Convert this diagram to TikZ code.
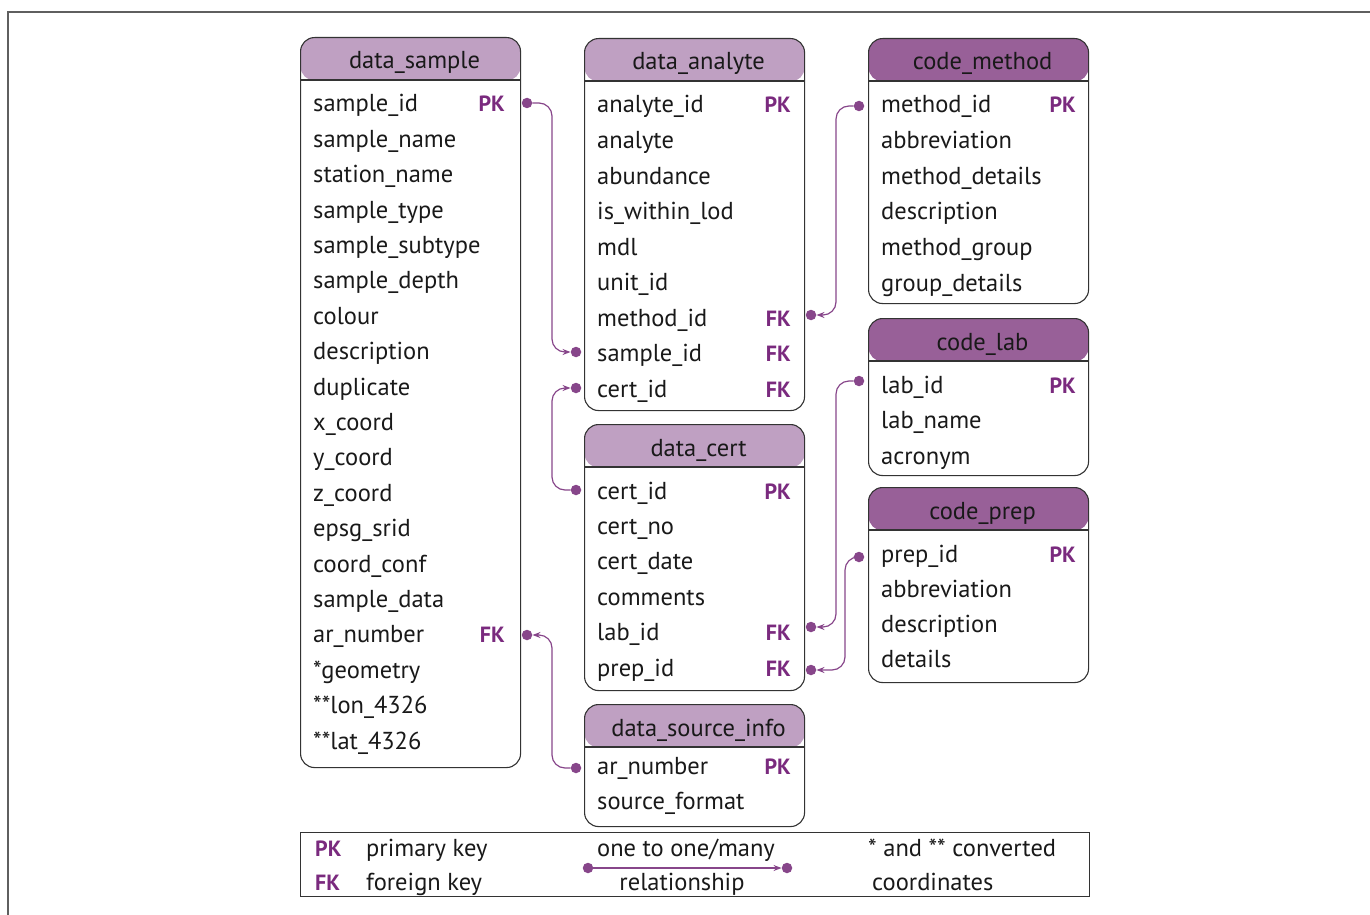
\documentclass[tikz,border=0pt]{standalone}
\usepackage{fontspec}
\setmainfont{PT Sans}
\usetikzlibrary{arrows.meta}
\definecolor{hdrlight}{RGB}{191,160,194}
\definecolor{hdrdark}{RGB}{152,96,152}
\definecolor{keycol}{RGB}{122,42,126}
\definecolor{conncol}{RGB}{135,70,138}
\definecolor{framecol}{RGB}{95,95,95}
\tikzset{
  tbl/.style={draw=black!80, line width=1.1pt, rounded corners=14pt, anchor=north west, inner sep=0pt, minimum width=220pt},
  tblline/.style={draw=black!80, line width=1.1pt},
  hdrtext/.style={font=\fontsize{24.5}{28}\selectfont, text=black!90, inner sep=0pt, anchor=base},
  rowtext/.style={font=\fontsize{24.5}{28}\selectfont, text=black!90, anchor=base west, inner sep=0pt},
  keytext/.style={font=\fontsize{22}{27}\selectfont\bfseries, text=keycol, anchor=base east, inner sep=0pt},
  dot/.style={circle, fill=conncol, inner sep=0pt, minimum size=10.5pt},
  conn/.style={draw=conncol, line width=1.2pt, rounded corners=13pt, -{Stealth[length=8pt,width=6pt]}},
}
\newcommand\ertable[6]{%
  \node[tbl, minimum height=#4pt, path picture={\fill[#5] (path picture bounding box.north west) rectangle ([yshift=-43pt]path picture bounding box.north east);}] (#1) at (#2,#3) {};
  \draw[tblline] ([yshift=-43pt]#1.north west) -- ([yshift=-43pt]#1.north east);
  \node[hdrtext] (#1-title) at ([xshift=4pt,yshift=-32pt]#1.north) {#6};
}
\newcommand\errows[5]{%
  \foreach \t [count=\i] in {#5} \node[rowtext] (#1-r\i) at ({#2},{#3+#4*(\i-1)}) {\t};
}
\begin{document}
\begin{tikzpicture}[x=1pt,y=-1pt]
\useasboundingbox (0,0) rectangle (1370,915);
% frame
\coordinate (fr1) at (8,915);
\coordinate (fr2) at (8,12);
\coordinate (fr3) at (1370,12);
\draw[framecol, line width=1.5pt] (fr1) -- (fr2) -- (fr3);

% tables
\ertable{ds}{300}{37}{730}{hdrlight}{data\_sample}
\errows{ds}{313}{112}{35.39}{sample\_id,sample\_name,station\_name,sample\_type,sample\_subtype,sample\_depth,colour,description,duplicate,x\_coord,y\_coord,z\_coord,epsg\_srid,coord\_conf,sample\_data,ar\_number,*geometry,**lon\_4326,**lat\_4326}
\node[keytext] (ds-k1) at (505,112) {PK};
\node[keytext] (ds-k16) at (505,642.9) {FK};

\ertable{da}{584}{38}{372}{hdrlight}{data\_analyte}
\errows{da}{597}{113}{35.5}{analyte\_id,analyte,abundance,is\_within\_lod,mdl,unit\_id,method\_id,sample\_id,cert\_id}
\node[keytext] (da-k1) at (791,113) {PK};
\node[keytext] (da-k7) at (791,326) {FK};
\node[keytext] (da-k8) at (791,361.5) {FK};
\node[keytext] (da-k9) at (791,397) {FK};

\ertable{cm}{868}{38}{265}{hdrdark}{code\_method}
\errows{cm}{881}{113}{35.6}{method\_id,abbreviation,method\_details,description,method\_group,group\_details}
\node[keytext] (cm-k1) at (1076,113) {PK};

\ertable{cl}{868}{318}{157}{hdrdark}{code\_lab}
\errows{cl}{881}{393}{35.5}{lab\_id,lab\_name,acronym}
\node[keytext] (cl-k1) at (1076,393) {PK};

\ertable{dc}{584}{424}{266}{hdrlight}{data\_cert}
\errows{dc}{597}{499}{35.4}{cert\_id,cert\_no,cert\_date,comments,lab\_id,prep\_id}
\node[keytext] (dc-k1) at (791,499) {PK};
\node[keytext] (dc-k5) at (791,640.6) {FK};
\node[keytext] (dc-k6) at (791,676) {FK};

\ertable{cp}{868}{487}{195}{hdrdark}{code\_prep}
\errows{cp}{881}{562}{35.3}{prep\_id,abbreviation,description,details}
\node[keytext] (cp-k1) at (1076,562) {PK};

\ertable{dsi}{584}{704}{122}{hdrlight}{data\_source\_info}
\errows{dsi}{597}{774}{35}{ar\_number,source\_format}
\node[keytext] (dsi-k1) at (791,774) {PK};

% dots
\node[dot] (d-ds-pk) at (527,103) {};
\node[dot] (d-da-sid) at (576,352) {};
\node[dot] (d-cm-pk) at (859,106) {};
\node[dot] (d-da-mid) at (811,315) {};
\node[dot] (d-da-cid) at (576,388) {};
\node[dot] (d-dc-pk) at (576,490) {};
\node[dot] (d-cl-pk) at (859,381) {};
\node[dot] (d-dc-lab) at (811,627) {};
\node[dot] (d-cp-pk) at (859,557) {};
\node[dot] (d-dc-prep) at (811,670) {};
\node[dot] (d-dsi-pk) at (576,768) {};
\node[dot] (d-ds-ar) at (527,635) {};

% vertical guides
\coordinate (v1) at (552,0);
\coordinate (v2) at (836,0);
\coordinate (v3) at (845,0);

% connectors
\draw[conn] (d-ds-pk) -- (d-ds-pk -| v1) -- (d-da-sid -| v1) -- (d-da-sid);
\draw[conn] (d-cm-pk) -- (d-cm-pk -| v2) -- (d-da-mid -| v2) -- (d-da-mid);
\draw[conn] (d-dc-pk) -- (d-dc-pk -| v1) -- (d-da-cid -| v1) -- (d-da-cid);
\draw[conn] (d-cl-pk) -- (d-cl-pk -| v2) -- (d-dc-lab -| v2) -- (d-dc-lab);
\draw[conn] (d-cp-pk) -- (d-cp-pk -| v3) -- (d-dc-prep -| v3) -- (d-dc-prep);
\draw[conn] (d-dsi-pk) -- (d-dsi-pk -| v1) -- (d-ds-ar -| v1) -- (d-ds-ar);

% legend
\node[draw=black!80, line width=1.1pt, anchor=north west, minimum width=789pt, minimum height=64pt, inner sep=0pt] (legend) at (300,832) {};
\node[keytext, anchor=base west] (lg-pk) at (315,856) {PK};
\node[rowtext] (lg-pkt) at (366,856) {primary key};
\node[keytext, anchor=base west] (lg-fk) at (315,890) {FK};
\node[rowtext] (lg-fkt) at (366,890) {foreign key};
\node[rowtext, anchor=base] (lg-rel1) at (686,856) {one to one/many};
\node[rowtext, anchor=base] (lg-rel2) at (682,890) {relationship};
\node[dot] (lg-d1) at (588,868) {};
\node[dot] (lg-d2) at (787,868) {};
\draw[conn] (lg-d1) -- (lg-d2);
\node[rowtext] (lg-c1) at (868,856) {* and ** converted};
\node[rowtext] (lg-c2) at (872,890) {coordinates};
\end{tikzpicture}
\end{document}
